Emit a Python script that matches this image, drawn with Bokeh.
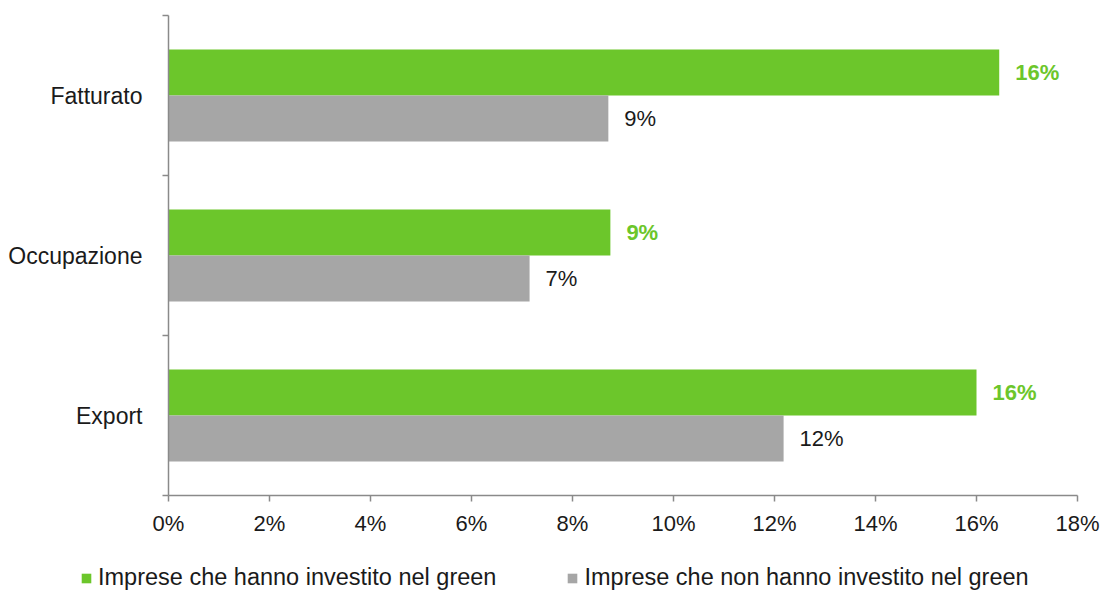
from bokeh.plotting import figure
from bokeh.models import (ColumnDataSource, Range1d, FixedTicker, NumeralTickFormatter,
                          Legend, LegendItem)
from bokeh.layouts import column
from bokeh.transform import dodge
from bokeh.core.properties import value
from bokeh.embed import file_html
from bokeh.resources import INLINE

categories = ["Export", "Occupazione", "Fatturato"]
green_vals = [0.160, 0.0875, 0.1645]
gray_vals = [0.1218, 0.0715, 0.0871]
x_ticks = [0, 0.02, 0.04, 0.06, 0.08, 0.10, 0.12, 0.14, 0.16, 0.18]
series_names = ["Imprese che hanno investito nel green",
                "Imprese che non hanno investito nel green"]

GREEN = "#6CC62B"
GRAY = "#A6A6A6"
AXIS = "#8A8A8A"
FONT = "Liberation Sans"

ypos = [i + 0.5 for i in range(len(categories))]
src = ColumnDataSource(dict(
    y=ypos,
    green=green_vals,
    gray=gray_vals,
    green_lbl=[f"{round(v * 100)}%" for v in green_vals],
    gray_lbl=[f"{round(v * 100)}%" for v in gray_vals],
))

p = figure(width=1104, height=548, output_backend="svg", toolbar_location=None,
           x_range=Range1d(0, 0.18), y_range=Range1d(0, len(categories)),
           min_border_left=168, min_border_right=27, min_border_top=15, min_border_bottom=53)
p.outline_line_color = None
p.xgrid.visible = False
p.ygrid.visible = False
p.background_fill_color = "white"
p.border_fill_color = "white"

off = 0.144
h = 0.2875
p.hbar(y=dodge("y", off), right="green", left=0, height=h, source=src,
       fill_color=GREEN, line_color=None)
p.hbar(y=dodge("y", -off), right="gray", left=0, height=h, source=src,
       fill_color=GRAY, line_color=None)

p.text(x="green", y=dodge("y", off), text="green_lbl", source=src, x_offset=16,
       text_font=value(FONT), text_font_size="22px", text_font_style="bold",
       text_color=GREEN, text_baseline="middle", text_align="left")
p.text(x="gray", y=dodge("y", -off), text="gray_lbl", source=src, x_offset=16,
       text_font=value(FONT), text_font_size="22px",
       text_color="#1a1a1a", text_baseline="middle", text_align="left")

# x axis
xa = p.xaxis[0]
xa.ticker = FixedTicker(ticks=x_ticks)
xa.formatter = NumeralTickFormatter(format="0%")
xa.axis_line_color = AXIS
xa.axis_line_width = 1.5
xa.major_tick_line_color = AXIS
xa.major_tick_line_width = 1.5
xa.major_tick_out = 6
xa.major_tick_in = 0
xa.minor_tick_line_color = None
xa.major_label_text_font = FONT
xa.major_label_text_font_size = "22px"
xa.major_label_text_color = "#1a1a1a"
xa.major_label_standoff = 9

# y axis
ya = p.yaxis[0]
ya.ticker = FixedTicker(ticks=ypos, minor_ticks=list(range(len(categories) + 1)))
ya.major_label_overrides = {y: c for y, c in zip(ypos, categories)}
ya.axis_line_color = AXIS
ya.axis_line_width = 1.5
ya.major_tick_line_color = None
ya.major_tick_out = 0
ya.major_tick_in = 0
ya.minor_tick_line_color = AXIS
ya.minor_tick_line_width = 1.5
ya.minor_tick_out = 6
ya.minor_tick_in = 0
ya.major_label_text_font = FONT
ya.major_label_text_font_size = "23px"
ya.major_label_text_color = "#1a1a1a"
ya.major_label_standoff = 20

# legend strip below the chart
lg = figure(width=1104, height=43, output_backend="svg", toolbar_location=None,
            x_range=Range1d(0, 1), y_range=Range1d(0, 1),
            min_border=0, min_border_left=0, min_border_right=0,
            min_border_top=0, min_border_bottom=0)
lg.axis.visible = False
lg.grid.visible = False
lg.outline_line_color = None
lg.background_fill_color = "white"
lg.border_fill_color = "white"
for fig in (p, lg):
    if "frame_align" in fig.properties():
        fig.frame_align = False
g1 = lg.rect(x=[-5], y=[-5], width=1, height=1, fill_color=GREEN, line_color=None)
g2 = lg.rect(x=[-5], y=[-5], width=1, height=1, fill_color=GRAY, line_color=None)

legend = Legend(items=[LegendItem(label=series_names[0], renderers=[g1]),
                       LegendItem(label=series_names[1], renderers=[g2])],
                orientation="horizontal", location=(80, 0),
                label_text_font=FONT, label_text_font_size="23.5px",
                label_text_color="#1a1a1a", glyph_width=12, glyph_height=12,
                label_standoff=6, spacing=70, padding=0, margin=0,
                label_height=24,
                border_line_color=None, background_fill_alpha=0)
lg.add_layout(legend, "center")

layout = column(p, lg, spacing=0)
open("out.html", "w").write(file_html(layout, INLINE))
